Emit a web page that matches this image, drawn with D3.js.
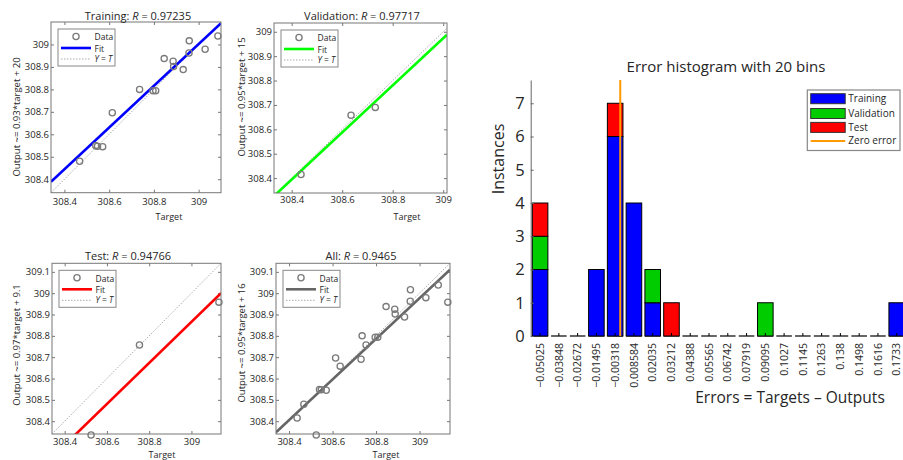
<!DOCTYPE html>
<html><head><meta charset="utf-8">
<script src="https://cdn.jsdelivr.net/npm/d3@7"></script>
<style>
body{margin:0;background:#fff}
svg{display:block}
text{font-family:"Open Sans",sans-serif;fill:#262626}
</style>
</head><body>
<svg id="c" width="903" height="460"></svg>
<script>
// ---------------- regression data ----------------
const trainTarget = [308.468,308.540,308.548,308.571,308.614,308.736,308.796,308.808,308.846,308.886,308.888,308.931,308.957,308.958,309.029,309.086];
const trainOutput = [308.480,308.549,308.547,308.545,308.696,308.800,308.794,308.794,308.937,308.925,308.902,308.888,308.962,309.016,308.979,309.038];
const valTarget = [308.437,308.635,308.731];
const valOutput = [308.415,308.658,308.690];
const testTarget = [308.525,308.754,309.130];
const testOutput = [308.335,308.757,308.958];

const plotNames = ["Training","Validation","Test","All"];
const plotR = ["0.97235","0.97717","0.94766","0.9465"];
const yLabelText = ["Output ~= 0.93*target + 20","Output ~= 0.95*target + 15","Output ~= 0.97*target + 9.1","Output ~= 0.95*target + 16"];
const fitSlope = [0.928,0.966,0.962,0.953];
const fitAt7 = [308.723,308.684,308.577,308.691]; // fitted output at target 308.7
const fitColors = ["#0000ff","#00ff00","#ff0000","#666666"];
const limitsX = [[308.34,309.10],[308.33,309.015],[308.34,309.14],[308.34,309.14]];
const limitsY = [[308.34,309.10],[308.339,309.036],[308.34,309.14],[308.34,309.14]];
const ticksX = [308.4,308.6,308.8,309];
const ticksYShort = [308.4,308.5,308.6,308.7,308.8,308.9,309];
const ticksYLong = [308.4,308.5,308.6,308.7,308.8,308.9,309,309.1];

// ---------------- histogram data ----------------
const binCenters = [-0.05025,-0.03848,-0.02672,-0.01495,-0.00318,0.008584,0.02035,0.03212,0.04388,0.05565,0.06742,0.07919,0.09095,0.1027,0.1145,0.1263,0.138,0.1498,0.1616,0.1733];
const binLabels = ["−0.05025","−0.03848","−0.02672","−0.01495","−0.00318","0.008584","0.02035","0.03212","0.04388","0.05565","0.06742","0.07919","0.09095","0.1027","0.1145","0.1263","0.138","0.1498","0.1616","0.1733"];
const histTraining   = [2,0,0,2,6,4,1,0,0,0,0,0,0,0,0,0,0,0,0,1];
const histValidation = [1,0,0,0,0,0,1,0,0,0,0,0,1,0,0,0,0,0,0,0];
const histTest       = [1,0,0,0,1,0,0,1,0,0,0,0,0,0,0,0,0,0,0,0];
const histYTicks = [0,1,2,3,4,5,6,7];
const histKeys = ["Training","Validation","Test"];
const histColors = ["#0000ff","#00cc00","#ff0000"];

const svg = d3.select("#c");
svg.append("rect").attr("width",903).attr("height",460).attr("fill","#fff");

// ---------------- layout ----------------
const boxes = [
  {x0:51,x1:221,y0:22,y1:192.7, title:[138,20], ylab:[17,117], tgt:[169,220], pad:6},
  {x0:274,x1:447,y0:23,y1:193, title:[362,20], ylab:[242,97], tgt:[407,220], pad:3},
  {x0:52,x1:221,y0:263.3,y1:434, title:[128,260], ylab:[17,345], tgt:[162,457.5], pad:4},
  {x0:276,x1:450,y0:263.3,y1:434, title:[361,260], ylab:[242,343], tgt:[386,457.5], pad:4.5}
];
const allTarget = trainTarget.concat(valTarget, testTarget);
const allOutput = trainOutput.concat(valOutput, testOutput);
const sets = [[trainTarget,trainOutput],[valTarget,valOutput],[testTarget,testOutput],[allTarget,allOutput]];

sets.forEach((s,i)=>{
  const b = boxes[i];
  const g = svg.append("g");
  const x = d3.scaleLinear().domain(limitsX[i]).range([b.x0,b.x1]);
  const y = d3.scaleLinear().domain(limitsY[i]).range([b.y1,b.y0]);
  const cid = "clip"+i;
  svg.append("clipPath").attr("id",cid).append("rect")
    .attr("x",b.x0).attr("y",b.y0).attr("width",b.x1-b.x0).attr("height",b.y1-b.y0);
  const yt = (i>=2)?ticksYLong:ticksYShort;

  // axes ticks (inward on all sides)
  const ax = g.append("g").attr("class","ax");
  ax.append("g").attr("transform",`translate(0,${b.y1})`)
    .call(d3.axisBottom(x).tickValues(ticksX).tickSizeInner(-3).tickSizeOuter(0).tickPadding(b.pad).tickFormat(d3.format("")));
  ax.append("g").attr("transform",`translate(${b.x0},0)`)
    .call(d3.axisLeft(y).tickValues(yt).tickSizeInner(-3).tickSizeOuter(0).tickPadding(2).tickFormat(d3.format("")));
  ax.append("g").attr("transform",`translate(0,${b.y0})`)
    .call(d3.axisTop(x).tickValues(ticksX).tickSizeInner(-3).tickSizeOuter(0).tickFormat(""));
  ax.append("g").attr("transform",`translate(${b.x1},0)`)
    .call(d3.axisRight(y).tickValues(yt).tickSizeInner(-3).tickSizeOuter(0).tickFormat(""));
  ax.selectAll(".domain").remove();
  ax.selectAll("line").attr("stroke","#777");
  ax.selectAll("text").style("font-size","9.5px").attr("fill","#333");

  const pg = g.append("g").attr("clip-path",`url(#${cid})`);
  // Y = T line
  const lo = Math.max(limitsX[i][0],limitsY[i][0]), hi = Math.min(limitsX[i][1],limitsY[i][1]);
  pg.append("line").attr("x1",x(lo)).attr("y1",y(lo)).attr("x2",x(hi)).attr("y2",y(hi))
    .attr("stroke","#aaa").attr("stroke-width",1).attr("stroke-dasharray","1.5,1.5");
  // fit line
  const f = t => fitAt7[i] + fitSlope[i]*(t-308.7);
  const tx = limitsX[i];
  pg.append("line").attr("x1",x(tx[0])).attr("y1",y(f(tx[0]))).attr("x2",x(tx[1])).attr("y2",y(f(tx[1])))
    .attr("stroke",fitColors[i]).attr("stroke-width",2.6);
  // points
  g.append("g").selectAll("circle").data(s[0].map((t,k)=>[t,s[1][k]])).join("circle")
    .attr("cx",d=>x(d[0])).attr("cy",d=>y(d[1])).attr("r",3.1)
    .attr("fill","none").attr("stroke","#7a7a7a").attr("stroke-width",1.3);
  // box
  g.append("rect").attr("x",b.x0).attr("y",b.y0).attr("width",b.x1-b.x0).attr("height",b.y1-b.y0)
    .attr("fill","none").attr("stroke","#777").attr("stroke-width",1);

  // legend
  const lx = b.x0+7, ly = b.y0+7;
  const lg = g.append("g");
  lg.append("rect").attr("x",lx).attr("y",ly).attr("width",57).attr("height",37)
    .attr("fill","#fff").attr("stroke","#888").attr("stroke-width",1);
  lg.append("circle").attr("cx",lx+18).attr("cy",ly+7.5).attr("r",3.1)
    .attr("fill","none").attr("stroke","#7a7a7a").attr("stroke-width",1.3);
  lg.append("line").attr("x1",lx+3).attr("x2",lx+33).attr("y1",ly+19).attr("y2",ly+19)
    .attr("stroke",fitColors[i]).attr("stroke-width",2.6);
  lg.append("line").attr("x1",lx+3).attr("x2",lx+33).attr("y1",ly+30).attr("y2",ly+30)
    .attr("stroke","#aaa").attr("stroke-dasharray","1.5,1.5");
  const lt = [["Data",ly+9],["Fit",ly+20.5]];
  lt.forEach(d=>lg.append("text").attr("x",lx+36.5).attr("y",d[1]).attr("dominant-baseline","middle")
    .style("font-size","8.5px").text(d[0]));
  const yeq = lg.append("text").attr("x",lx+36.5).attr("y",ly+30.5).attr("dominant-baseline","middle").style("font-size","8.5px");
  yeq.append("tspan").style("font-style","italic").text("Y");
  yeq.append("tspan").text(" = ");
  yeq.append("tspan").style("font-style","italic").text("T");

  // title
  const tt = g.append("text").attr("x",b.title[0]).attr("y",b.title[1]).attr("text-anchor","middle").style("font-size","11px");
  tt.append("tspan").text(plotNames[i]+": ");
  tt.append("tspan").style("font-style","italic").text("R");
  tt.append("tspan").text(" = "+plotR[i]);
  // y label
  g.append("text").attr("transform",`translate(${b.ylab[0]},${b.ylab[1]}) rotate(-90)`)
    .attr("text-anchor","middle").attr("dominant-baseline","middle").style("font-size","9.5px").text(yLabelText[i]);
  // x label
  g.append("text").attr("x",b.tgt[0]).attr("y",b.tgt[1]).attr("text-anchor","middle").style("font-size","9px").text("Target");
});

// ---------------- histogram ----------------
const hx = d3.scaleBand().domain(binLabels).range([530.7,906.1]).paddingInner(0.17).paddingOuter(0.085);
const hy = d3.scaleLinear().domain([0,7.7]).range([336,80]);
const rows = binLabels.map((l,k)=>({label:l, Training:histTraining[k], Validation:histValidation[k], Test:histTest[k]}));
const stacked = d3.stack().keys(histKeys)(rows);
const hg = svg.append("g");

// baseline segments for every bin
hg.append("g").selectAll("line").data(binLabels).join("line")
  .attr("x1",d=>hx(d)).attr("x2",d=>hx(d)+hx.bandwidth()).attr("y1",hy(0)).attr("y2",hy(0))
  .attr("stroke","#000").attr("stroke-width",1.2);
stacked.forEach((layer,li)=>{
  hg.append("g").selectAll("rect").data(layer.filter(d=>d[1]>d[0])).join("rect")
    .attr("x",d=>hx(d.data.label)).attr("width",hx.bandwidth())
    .attr("y",d=>hy(d[1])).attr("height",d=>hy(d[0])-hy(d[1]))
    .attr("fill",histColors[li]).attr("stroke","#000").attr("stroke-width",1);
});
// x axis
const hxa = hg.append("g").attr("transform","translate(0,336)")
  .call(d3.axisBottom(hx).tickSizeInner(-3).tickSizeOuter(0).tickPadding(0));
hxa.select(".domain").remove();
hxa.selectAll("line").attr("stroke","#000");
hxa.selectAll("text").attr("transform","rotate(-90)").attr("text-anchor","end")
  .attr("x",-7).attr("y",0).attr("dy","0.35em").style("font-size","10.5px").attr("fill","#333");
// y axis
const hya = hg.append("g").attr("transform","translate(530.7,0)")
  .call(d3.axisLeft(hy).tickValues(histYTicks).tickSizeInner(-3).tickSizeOuter(0).tickPadding(6).tickFormat(d3.format("d")));
hya.select(".domain").attr("stroke","#666");
hya.selectAll("line").attr("stroke","#666");
hya.selectAll("text").style("font-size","16.5px").attr("fill","#333");

// zero error line
const ez = d3.scaleLinear().domain([binCenters[0],binCenters[binCenters.length-1]])
  .range([hx(binLabels[0])+hx.bandwidth()/2, hx(binLabels[binLabels.length-1])+hx.bandwidth()/2]);
hg.append("line").attr("x1",ez(0)).attr("x2",ez(0)).attr("y1",hy(7.7)).attr("y2",hy(0))
  .attr("stroke","#ff9900").attr("stroke-width",2);

// titles
hg.append("text").attr("x",726).attr("y",72).attr("text-anchor","middle").style("font-size","15px").text("Error histogram with 20 bins");
hg.append("text").attr("transform","translate(500,159) rotate(-90)").attr("text-anchor","middle")
  .attr("dominant-baseline","middle").style("font-size","16px").text("Instances");
hg.append("text").attr("x",790).attr("y",403).attr("text-anchor","middle").style("font-size","15.5px").text("Errors = Targets – Outputs");

// legend
const hl = hg.append("g");
hl.append("rect").attr("x",807.3).attr("y",90).attr("width",92.7).attr("height",60.5)
  .attr("fill","#fff").attr("stroke","#888").attr("stroke-width",1.2);
const legItems = histKeys.concat(["Zero error"]);
const legColors = histColors.concat(["#ff9900"]);
const legY = [98.7,113.5,127.4,141];
legItems.forEach((n,k)=>{
  if(k<3){
    hl.append("rect").attr("x",810.7).attr("y",legY[k]-5).attr("width",34.5).attr("height",10)
      .attr("fill",legColors[k]).attr("stroke","#333").attr("stroke-width",1);
  } else {
    hl.append("line").attr("x1",810.7).attr("x2",845.2).attr("y1",legY[k]).attr("y2",legY[k])
      .attr("stroke",legColors[k]).attr("stroke-width",2);
  }
  hl.append("text").attr("x",848.3).attr("y",legY[k]+0.5).attr("dominant-baseline","middle")
    .style("font-size","10px").text(n);
});
</script>
</body></html>
